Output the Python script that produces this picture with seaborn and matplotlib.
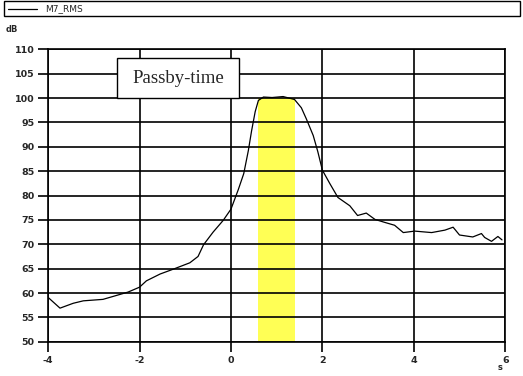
import matplotlib
matplotlib.use("Agg")
import matplotlib.pyplot as plt
import seaborn as sns
import pandas as pd
from matplotlib.patches import Rectangle
from matplotlib.lines import Line2D

# data
time_s = [-4.0, -3.74, -3.45, -3.23, -2.8, -2.25, -2.0, -1.85, -1.55, -1.26, -0.9, -0.72,
          -0.6, -0.39, -0.17, 0.0, 0.16, 0.28, 0.38, 0.45, 0.53, 0.6, 0.71, 0.9, 1.14,
          1.39, 1.54, 1.65, 1.8, 1.9, 2.0, 2.16, 2.34, 2.6, 2.77, 2.96, 3.15, 3.36, 3.58,
          3.77, 4.02, 4.39, 4.68, 4.86, 5.0, 5.29, 5.48, 5.55, 5.7, 5.84, 5.93]
level_db = [59.1, 56.9, 57.9, 58.4, 58.7, 60.2, 61.2, 62.5, 63.9, 64.9, 66.2, 67.5,
            69.9, 72.5, 74.9, 77.2, 81.2, 84.5, 89.2, 93.2, 97.2, 99.5, 100.2, 100.1, 100.3,
            99.7, 98.0, 95.7, 92.3, 89.0, 85.2, 82.5, 79.6, 77.9, 75.9, 76.4, 75.1, 74.5, 73.9,
            72.4, 72.7, 72.4, 72.9, 73.5, 71.9, 71.5, 72.2, 71.4, 70.6, 71.6, 70.9]
series_name = "M7_RMS"
passby_start, passby_end, passby_top = 0.6, 1.4, 100
annotation = "Passby-time"
x_ticks = [-4, -2, 0, 2, 4, 6]
y_ticks = list(range(50, 111, 5))

df = pd.DataFrame({"t": time_s, "dB": level_db})

sns.set_theme(style="white")
plt.rcParams["font.family"] = ["DejaVu Sans"]

fig = plt.figure(figsize=(5.23, 3.76), dpi=100)
ax = fig.add_axes([0.092, 0.091, 0.874, 0.778])

ax.fill_between([passby_start, passby_end], 50, passby_top, color="#FFFF55", lw=0, zorder=1)
sns.lineplot(data=df, x="t", y="dB", ax=ax, color="black", lw=0.9, zorder=3)

ax.set_xlim(-4, 6)
ax.set_ylim(50, 110)
ax.set_xticks(x_ticks)
ax.set_yticks(y_ticks)
ax.set_xticklabels([str(v) for v in x_ticks], fontsize=6.8, fontweight="bold")
ax.set_yticklabels([str(v) for v in y_ticks], fontsize=6.8, fontweight="bold")
ax.set_xlabel("")
ax.set_ylabel("")
ax.grid(True, color="black", lw=1.2, zorder=2)
ax.set_axisbelow(False)
for s in ax.spines.values():
    s.set_color("black")
    s.set_linewidth(1.2)
ax.tick_params(axis="both", which="both", direction="out", length=7, width=1.2,
               color="black", pad=3, left=True, bottom=True)

# annotation box
ax.add_patch(Rectangle((-2.5, 100.0), 2.68, 8.2, fc="white", ec="black", lw=1.0, zorder=5))
ax.text(-1.16, 104.1, annotation, fontsize=13.5, family="Liberation Serif",
        ha="center", va="center", zorder=6)

# legend strip at the top
fig.patches.append(Rectangle((4 / 523, 1 - 15.5 / 376), 516 / 523, 15 / 376,
                             transform=fig.transFigure, fill=False, ec="black", lw=1.0))
fig.lines.append(Line2D([8 / 523, 37 / 523], [1 - 8.5 / 376] * 2,
                        transform=fig.transFigure, color="black", lw=0.9))
fig.text(45 / 523, 1 - 8.5 / 376, series_name, fontsize=6.5, va="center", ha="left")

fig.text(6 / 523, 1 - 30 / 376, "dB", fontsize=6, fontweight="bold", va="center", ha="left")
fig.text(500 / 523, 1 - 368 / 376, "s", fontsize=6, fontweight="bold", va="center", ha="center")

fig.savefig("out.png", dpi=100, facecolor="white")
